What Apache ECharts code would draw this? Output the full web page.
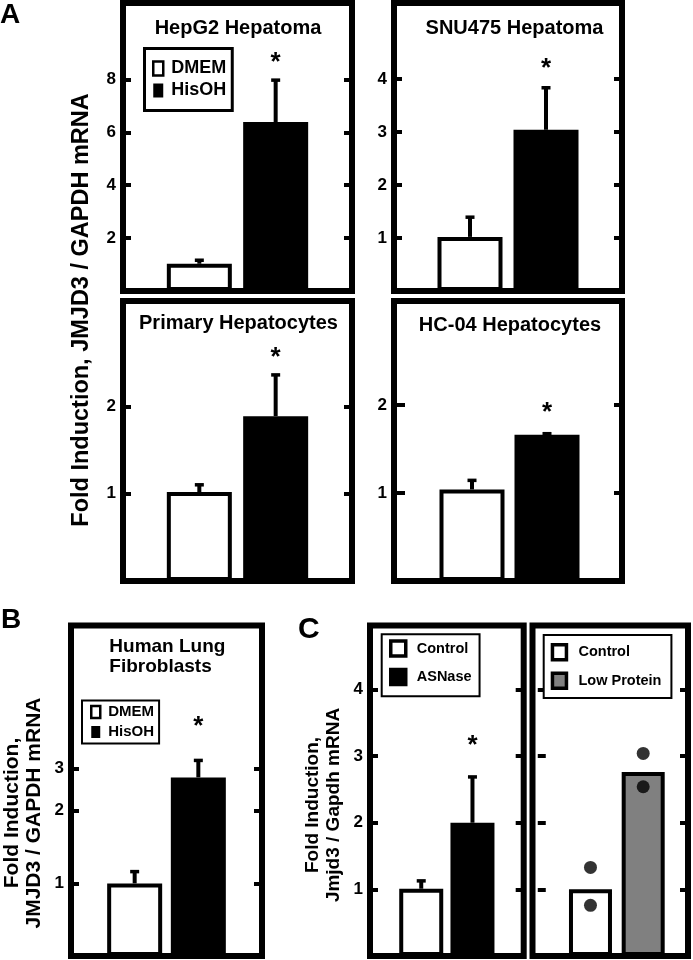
<!DOCTYPE html>
<html><head><meta charset="utf-8">
<script src="https://cdn.jsdelivr.net/npm/echarts@6/dist/echarts.min.js"></script>
<style>html,body{margin:0;padding:0;background:#fff}#c{width:693px;height:960px}</style>
</head><body><div id="c"></div>
<script>
// ---------------- data ----------------
const groupsA = ['DMEM', 'HisOH'];
const hepg2Mean = [1.03, 6.39];
const hepg2Err = [1.22, 8.03];
const hepg2Star = 8.85;
const ticksHepG2 = [2, 4, 6, 8];

const snuMean = [1.02, 3.04];
const snuErr = [1.42, 3.86];
const snuStar = 4.30;
const ticksSNU = [1, 2, 3, 4];

const primMean = [1.02, 1.89];
const primErr = [1.12, 2.38];
const primStar = 2.63;
const ticksPrim = [1, 2];

const hc04Mean = [1.04, 1.66];
const hc04Err = [1.16, 1.69];
const hc04Star = 1.98;
const ticksHC04 = [1, 2];

// panel B is drawn on a logarithmic (base-10) value scale
const lungMean = [1.0, 2.75];
const lungErr = [1.135, 3.28];
const lungStar = 4.7;
const ticksLung = [1, 2, 3];

const groupsC1 = ['Control', 'ASNase'];
const asnMean = [1.01, 2.0];
const asnErr = [1.15, 2.71];
const asnStar = 3.24;
const ticksC = [1, 2, 3, 4];

const groupsC2 = ['Control', 'Low Protein'];
const lpMean = [1.0, 2.76];
const lpControlPoints = [1.33, 0.76];
const lpLowPoints = [3.04, 2.54];

// ---------------- chart ----------------
const FONT = '"Liberation Sans", Arial, Helvetica, sans-serif';
const chart = echarts.init(document.getElementById('c'), null, {renderer: 'canvas'});

const panels = [
  {grid: {left: 123, top: 3, width: 229, height: 288}, yMin: 0, yMax: 10.89, ticks: ticksHepG2, groups: groupsA,
   mean: hepg2Mean, err: hepg2Err, star: hepg2Star, colors: ['#fff', '#000'], barWidth: 65, xMin: 0, xMax: 3},
  {grid: {left: 394, top: 3, width: 228, height: 288}, yMin: 0, yMax: 5.43, ticks: ticksSNU, groups: groupsA,
   mean: snuMean, err: snuErr, star: snuStar, colors: ['#fff', '#000'], barWidth: 65, xMin: 0, xMax: 3},
  {grid: {left: 123, top: 301, width: 229, height: 280}, yMin: 0, yMax: 3.21, ticks: ticksPrim, groups: groupsA,
   mean: primMean, err: primErr, star: primStar, colors: ['#fff', '#000'], barWidth: 65, xMin: 0, xMax: 3},
  {grid: {left: 394, top: 301, width: 228, height: 280}, yMin: 0, yMax: 3.18, ticks: ticksHC04, groups: groupsA,
   mean: hc04Mean, err: hc04Err, star: hc04Star, colors: ['#fff', '#000'], barWidth: 65, xMin: -0.04, xMax: 3},
  {grid: {left: 71, top: 625.5, width: 191, height: 330.5}, log: true, yMin: 0.5, yMax: 11.72, ticks: ticksLung, groups: groupsA,
   mean: lungMean, err: lungErr, star: lungStar, colors: ['#fff', '#000'], barWidth: 55, xMin: 0, xMax: 3},
  {grid: {left: 370, top: 625.5, width: 153.7, height: 330.5}, yMin: 0, yMax: 4.96, ticks: ticksC, groups: groupsC1,
   mean: asnMean, err: asnErr, star: asnStar, colors: ['#fff', '#000'], barWidth: 44, xMin: 0, xMax: 3},
  {grid: {left: 532.5, top: 625.5, width: 155.5, height: 330.5}, yMin: 0, yMax: 4.96, ticks: ticksC, groups: groupsC2,
   mean: lpMean, colors: ['#fff', '#808080'], barWidth: 43, xMin: -0.1, xMax: 2.85, noLabels: true}
];

const grid = [], xAxis = [], yAxis = [], series = [];
panels.forEach((p, gi) => {
  // value transform of the axis scale (log10 for the log panel)
  const t = p.log ? (v => Math.log10(v)) : (v => v);
  const fmt = p.log ? (v => String(Math.round(Math.pow(10, v)))) : (v => String(v));
  const ticks = p.ticks.map(t);
  grid.push(Object.assign({show: true, borderColor: '#000', borderWidth: 6, backgroundColor: 'transparent',
    containLabel: false, outerBoundsMode: 'none'}, p.grid));
  xAxis.push({type: 'value', gridIndex: gi, min: p.xMin, max: p.xMax, show: false});
  const base = {
    type: 'value', gridIndex: gi, min: t(p.yMin), max: t(p.yMax), startValue: t(p.yMin),
    splitLine: {show: false}, axisLine: {show: false},
    axisTick: {show: true, inside: true, length: 8, lineStyle: {color: '#000', width: 4}, customValues: ticks}
  };
  yAxis.push(Object.assign({}, base, {position: 'left',
    axisLabel: {show: !p.noLabels, customValues: ticks, formatter: fmt, margin: 7, color: '#000',
      fontSize: 17, fontWeight: 'bold', fontFamily: FONT}}));
  yAxis.push(Object.assign({}, base, {position: 'right', axisLabel: {show: false}}));
  const yi = gi * 2;
  p.groups.forEach((name, i) => {
    series.push({type: 'bar', name: name, xAxisIndex: gi, yAxisIndex: yi, data: [[i + 1, t(p.mean[i])]],
      barWidth: p.barWidth, barGap: '-100%', silent: true, animation: false, z: 2,
      itemStyle: {color: p.colors[i], borderColor: '#000', borderWidth: 4}});
  });
  if (p.err) {
    series.push({type: 'custom', xAxisIndex: gi, yAxisIndex: yi, z: 5, silent: true, animation: false,
      data: p.groups.map((g, i) => [i + 1, t(p.mean[i]), t(p.err[i])]),
      encode: {x: 0, y: [1, 2]},
      renderItem: function (params, api) {
        const x = api.value(0), m = api.value(1), e = api.value(2);
        const pm = api.coord([x, m]), pe = api.coord([x, e]);
        return {type: 'group', children: [
          {type: 'line', shape: {x1: pm[0], y1: pm[1], x2: pe[0], y2: pe[1] + 1}, style: {stroke: '#000', lineWidth: 4}},
          {type: 'line', shape: {x1: pe[0] - 4.5, y1: pe[1] + 1.5, x2: pe[0] + 4.5, y2: pe[1] + 1.5}, style: {stroke: '#000', lineWidth: 3.5}}
        ]};
      }});
  }
  if (p.star !== undefined) {
    series.push({type: 'custom', xAxisIndex: gi, yAxisIndex: yi, z: 6, silent: true, animation: false,
      data: [[2, t(p.star)]], encode: {x: 0, y: 1},
      renderItem: function (params, api) {
        const c = api.coord([api.value(0), api.value(1)]);
        return {type: 'text', x: c[0], y: c[1] + 6,
          style: {text: '*', fill: '#000', font: 'bold 26px ' + FONT, align: 'center', verticalAlign: 'middle'}};
      }});
  }
});

// individual points (panel C right)
const dots = [];
lpControlPoints.forEach(v => dots.push([1, v]));
lpLowPoints.forEach(v => dots.push([2, v]));
series.push({type: 'scatter', xAxisIndex: 6, yAxisIndex: 12, symbol: 'circle', symbolSize: 13, z: 6,
  silent: true, animation: false, itemStyle: {color: '#000'}, data: dots});

const legTxt = (size) => ({fontSize: size, fontWeight: 'bold', color: '#000', fontFamily: FONT});
const legend = [
  {orient: 'vertical', left: 144.5, top: 48.5, selectedMode: false, backgroundColor: '#fff',
   borderColor: '#000', borderWidth: 3, padding: [11, 6, 11, 7.5], itemWidth: 10, itemHeight: 14, itemGap: 4,
   textStyle: Object.assign(legTxt(18), {padding: [0, 0, 0, 3]}),
   data: [{name: 'DMEM', icon: 'rect', itemStyle: {color: '#fff', borderColor: '#000', borderWidth: 2.5}},
          {name: 'HisOH', icon: 'rect', itemStyle: {color: '#000', borderColor: '#000', borderWidth: 0}}]},
  {orient: 'vertical', left: 82, top: 700.5, selectedMode: false, backgroundColor: '#fff',
   borderColor: '#000', borderWidth: 2, padding: [4, 5, 4, 8], itemWidth: 9, itemHeight: 12, itemGap: 5,
   textStyle: Object.assign(legTxt(15), {padding: [0, 0, 0, 3]}),
   data: [{name: 'DMEM', icon: 'rect', itemStyle: {color: '#fff', borderColor: '#000', borderWidth: 2.5}},
          {name: 'HisOH', icon: 'rect', itemStyle: {color: '#000', borderColor: '#000', borderWidth: 0}}]},
  {orient: 'vertical', left: 381.7, top: 634.3, selectedMode: false, backgroundColor: '#fff',
   borderColor: '#000', borderWidth: 2, padding: [5, 8, 10, 7.3], itemWidth: 15, itemHeight: 15, itemGap: 10,
   textStyle: Object.assign(legTxt(14.5), {padding: [0, 0, 0, 6]}),
   data: [{name: 'Control', icon: 'rect', itemStyle: {color: '#fff', borderColor: '#000', borderWidth: 3.5}},
          {name: 'ASNase', icon: 'rect', itemStyle: {color: '#000', borderColor: '#000', borderWidth: 3.5}}]},
  {orient: 'vertical', left: 543.7, top: 635, selectedMode: false, backgroundColor: '#fff',
   borderColor: '#000', borderWidth: 2, padding: [8, 10, 8, 7], itemWidth: 14, itemHeight: 15, itemGap: 10,
   textStyle: Object.assign(legTxt(14.5), {padding: [0, 0, 0, 7]}),
   data: [{name: 'Control', icon: 'rect', itemStyle: {color: '#fff', borderColor: '#000', borderWidth: 3.5}},
          {name: 'Low Protein', icon: 'rect', itemStyle: {color: '#808080', borderColor: '#000', borderWidth: 3.5}}]}
];

const txt = (text, x, y, size, opts) => Object.assign({type: 'text', x: x, y: y, silent: true, z: 10,
  style: Object.assign({text: text, fill: '#000', font: 'bold ' + size + 'px ' + FONT, align: 'center', verticalAlign: 'middle'}, (opts && opts.style) || {})},
  opts && opts.el || {});

const graphic = [
  txt('A', 0, 15, 28, {style: {align: 'left'}}),
  txt('B', 1, 620, 28, {style: {align: 'left'}}),
  txt('C', 298, 630, 30, {style: {align: 'left'}}),
  txt('HepG2 Hepatoma', 238, 28.5, 20),
  txt('SNU475 Hepatoma', 514.5, 28.5, 20),
  txt('Primary Hepatocytes', 238.5, 323.5, 20),
  txt('HC-04 Hepatocytes', 510, 325, 20),
  txt('Human Lung\nFibroblasts', 109.3, 656.7, 19, {style: {align: 'left', lineHeight: 20}}),
  txt('Fold Induction, JMJD3 / GAPDH mRNA', 82, 310, 23.5, {el: {rotation: Math.PI / 2}}),
  txt('Fold Induction,\nJMJD3 / GAPDH mRNA', 23, 813, 21, {style: {lineHeight: 22}, el: {rotation: Math.PI / 2}}),
  txt('Fold Induction,\nJmjd3 / Gapdh mRNA', 323, 805, 19, {style: {lineHeight: 21}, el: {rotation: Math.PI / 2}})
];

chart.setOption({
  animation: false,
  backgroundColor: '#fff',
  textStyle: {fontFamily: FONT},
  grid: grid, xAxis: xAxis, yAxis: yAxis, series: series, legend: legend, graphic: graphic
});
</script></body></html>
